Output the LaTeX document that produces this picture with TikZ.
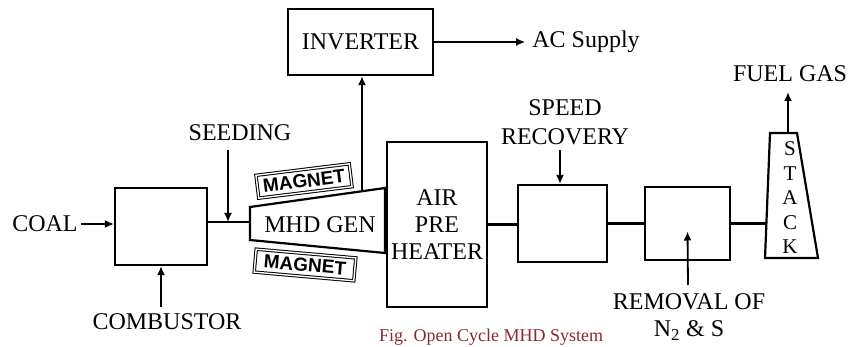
\documentclass[tikz,border=0pt]{standalone}
\usepackage{fontspec}
\setmainfont{Liberation Serif}
\newfontfamily\magfont{Liberation Sans}
\usetikzlibrary{arrows.meta}
\definecolor{capred}{RGB}{140,40,40}
\begin{document}
\begin{tikzpicture}[x=1pt,y=-1pt,
  line width=2.2pt,
  lbl/.style={font=\fontsize{24}{29}\selectfont, inner sep=0pt},
  blk/.style={draw, line width=2.2pt, inner sep=0pt, font=\fontsize{24}{27}\selectfont},
  arr/.style={-{Latex[length=9pt,width=8pt]}, line width=1.8pt},
  mag/.style={draw, double, double distance=1.4pt, line width=1pt,
    font=\magfont\bfseries\fontsize{19}{20}\selectfont, inner sep=1pt,
    minimum height=23pt},
]
\useasboundingbox (0,0) rectangle (850,347);

% blocks
\node[blk, minimum width=92pt, minimum height=77pt] (comb) at (161,226.5) {};
\node[blk, minimum width=145pt, minimum height=66pt] (inv) at (360.5,42) {INVERTER};
\node[blk, minimum width=100pt, minimum height=165pt, align=center] (air) at (437,224.5) {AIR\\PRE\\HEATER};
\node[blk, minimum width=89pt, minimum height=77pt] (speed) at (562.5,223.5) {};
\node[blk, minimum width=85pt, minimum height=73pt] (rem) at (687.5,223.5) {};

% MHD generator (trapezoid)
\draw[line width=2.2pt] (250,207) -- (385,188) -- (385,253) -- (250,240) -- cycle;
\node[lbl] (mhd) at (320,225) {MHD GEN};
\coordinate (mhdL) at (250,222);
\coordinate (mhdT) at (362,191);

% magnets
\node[mag, minimum width=94pt, rotate=7] (mag1) at (304,181) {MAGNET};
\node[mag, minimum width=100pt, rotate=-5] (mag2) at (305,265) {MAGNET};

% stack
\draw[line width=2.2pt] (765,258) -- (818,258) -- (797,133) -- (770,133) -- cycle;
\node[font=\fontsize{21}{24.5}\selectfont, align=center, inner sep=0pt] (stk) at (790,198) {S\\T\\A\\C\\K};
\coordinate (stackT) at (788,133);
\coordinate (stackL) at (766.5,223.5);
\coordinate (ftip) at (788,92);

% labels
\node[lbl] (coal) at (45,224) {COAL};
\node[lbl] (combl) at (167,322) {COMBUSTOR};
\node[lbl] (seed) at (240,133) {SEEDING};
\node[lbl] (ac) at (586,42) {AC Supply};
\node[lbl, align=center] (spl) at (565,122) {SPEED\\RECOVERY};
\node[font=\fontsize{24}{27}\selectfont, inner sep=0pt, align=center] (reml) at (689,317) {REMOVAL OF\\N\textsubscript{2} \& S};
\node[lbl] (fuel) at (790,74) {FUEL GAS};
\node[font=\fontsize{18}{20}\selectfont, text=capred, inner sep=0pt, anchor=base west] (cap) at (378,341) {Fig. Open Cycle MHD System};

\coordinate (cb) at (161,307);
\coordinate (sd) at (228,150);
\coordinate (sr) at (560,150);
\coordinate (rm) at (688,285);

% connectors
\draw[arr] ([xshift=2pt]coal.east) -- (comb.west |- coal.east);
\draw[arr] (cb) -- (comb.south);
\draw (comb.east |- mhdL) -- (mhdL);
\draw[arr] (sd) -- (sd |- mhdL);
\draw[arr] (mhdT) -- (mhdT |- inv.south);
\draw[arr] (inv.east) -- ([xshift=-6pt]ac.west);
\draw (air.east) -- (air.east -| speed.west);
\draw[arr] (sr) -- (sr |- speed.north);
\draw (speed.east) -- (speed.east -| rem.west);
\draw[arr] (rm) -- ([yshift=-8pt]rem.center);
\draw (rem.east) -- (rem.east -| stackL);
\draw[arr] (stackT) -- (ftip);
\end{tikzpicture}
\end{document}
